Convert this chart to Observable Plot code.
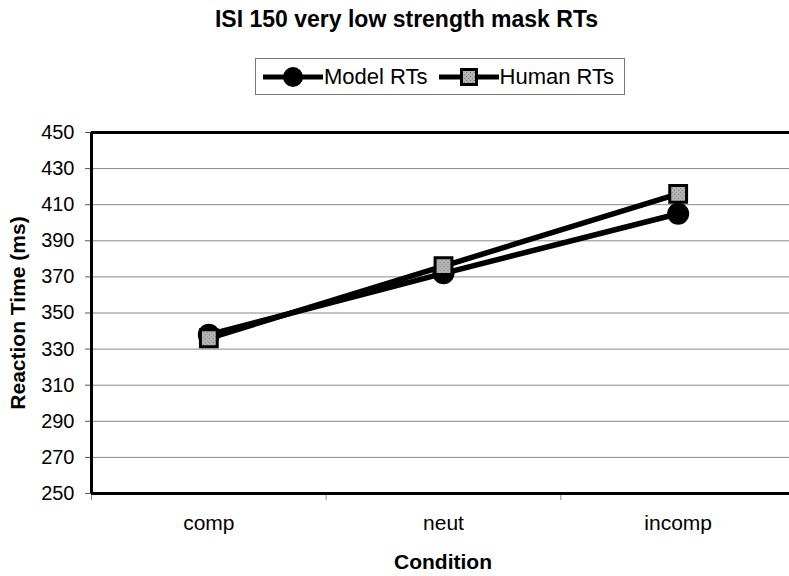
<!DOCTYPE html>
<html>
<head>
<meta charset="utf-8">
<script src="https://cdn.jsdelivr.net/npm/d3@7"></script>
<script src="https://cdn.jsdelivr.net/npm/@observablehq/plot@0.6"></script>
<style>
  html, body { margin: 0; padding: 0; background: #fff; overflow: hidden; }
  #wrap { position: relative; width: 789px; height: 576px; font-family: "Liberation Sans", Arial, sans-serif; }
  #wrap svg.plot { position: absolute; left: 0; top: 0; }
  .title { position: absolute; left: 0; width: 813px; top: 6px; text-align: center; font-weight: bold; font-size: 23px; }
  .ytitle { position: absolute; left: 18px; top: 313px; transform: translate(-50%, -50%) rotate(-90deg); white-space: nowrap; font-weight: bold; font-size: 21px; }
  .xtitle { position: absolute; left: 443px; top: 562px; transform: translate(-50%, -50%); white-space: nowrap; font-weight: bold; font-size: 21px; }
  .legend { position: absolute; left: 255px; top: 58px; width: 370px; height: 37px; border: 1px solid #777; display: flex; align-items: center; font-size: 22px; box-sizing: border-box; }
  .legend .item { display: flex; align-items: center; }
  .legend svg { display: block; }
</style>
</head>
<body>
<div id="wrap">
  <div class="title">ISI 150 very low strength mask RTs</div>
  <div class="legend" id="legend"></div>
  <div class="ytitle">Reaction Time (ms)</div>
  <div class="xtitle">Condition</div>
</div>
<script>
const categories = ["comp", "neut", "incomp"];
const modelRTs = [338, 372, 405];
const humanRTs = [336, 376, 416];
const yTicks = [250, 270, 290, 310, 330, 350, 370, 390, 410, 430, 450];
const seriesNames = ["Model RTs", "Human RTs"];

const data = [];
categories.forEach((c, i) => {
  data.push({series: seriesNames[0], idx: i, rt: modelRTs[i]});
  data.push({series: seriesNames[1], idx: i, rt: humanRTs[i]});
});
const model = data.filter(d => d.series === seriesNames[0]);
const human = data.filter(d => d.series === seriesNames[1]);
const boundaries = d3.range(categories.length + 1).map(i => i - 0.5);

const svgNS = "http://www.w3.org/2000/svg";

const chart = Plot.plot({
  width: 789,
  height: 576,
  marginTop: 132,
  marginBottom: 83,
  marginLeft: 91,
  marginRight: 0,
  style: {fontFamily: "Liberation Sans, Arial, sans-serif", fontSize: "20px", color: "#000", background: "transparent"},
  x: {type: "linear", domain: [-0.5, categories.length - 0.5], range: [91, 795]},
  y: {domain: [250, 450]},
  marks: [
    Plot.ruleY(yTicks, {stroke: "#888", strokeWidth: 1}),
    Plot.axisY({ticks: yTicks, tickSize: 6, tickPadding: 11, stroke: "#555", fontSize: 20, label: null}),
    Plot.axisX({ticks: boundaries, tickSize: 7, tickFormat: () => "", stroke: "#888", label: null}),
    Plot.axisX({ticks: d3.range(categories.length), tickSize: 0, tickPadding: 22, tickFormat: i => categories[i], fontSize: 21, label: null}),
    Plot.ruleY([450], {stroke: "#000", strokeWidth: 3}),
    Plot.ruleY([250], {stroke: "#000", strokeWidth: 3}),
    Plot.ruleX([-0.5], {stroke: "#000", strokeWidth: 3}),
    Plot.line(model, {x: "idx", y: "rt", stroke: "#000", strokeWidth: 5.5}),
    Plot.dot(model, {x: "idx", y: "rt", r: 11, fill: "#000", stroke: "none"}),
    Plot.line(human, {x: "idx", y: "rt", stroke: "#000", strokeWidth: 5.5}),
    Plot.dot(human, {x: "idx", y: "rt", symbol: "square", r: 9.5, fill: "url(#stipple)", stroke: "#000", strokeWidth: 3})
  ]
});
chart.classList.add("plot");

// stipple pattern for the square markers
const defs = document.createElementNS(svgNS, "defs");
defs.innerHTML = `<pattern id="stipple" patternUnits="userSpaceOnUse" width="4" height="4">
  <rect width="4" height="4" fill="#b4b4b4"/>
  <rect x="0" y="0" width="1" height="1" fill="#777"/>
  <rect x="2" y="2" width="1" height="1" fill="#888"/>
</pattern>`;
chart.insertBefore(defs, chart.firstChild);

document.getElementById("wrap").prepend(chart);

// legend
const legend = document.getElementById("legend");
seriesNames.forEach((name, k) => {
  const item = document.createElement("div");
  item.className = "item";
  item.style.marginLeft = k === 0 ? "6px" : "10px";
  const s = document.createElementNS(svgNS, "svg");
  s.setAttribute("width", "62"); s.setAttribute("height", "26");
  let marker = k === 0
    ? `<circle cx="31" cy="13" r="10" fill="#000"/>`
    : `<defs><pattern id="stipple2" patternUnits="userSpaceOnUse" width="4" height="4"><rect width="4" height="4" fill="#b4b4b4"/><rect width="1" height="1" fill="#777"/><rect x="2" y="2" width="1" height="1" fill="#888"/></pattern></defs><rect x="23.5" y="5.5" width="15" height="15" fill="url(#stipple2)" stroke="#000" stroke-width="3"/>`;
  s.innerHTML = `<line x1="1" y1="13" x2="61" y2="13" stroke="#000" stroke-width="5"/>` + marker;
  const t = document.createElement("span");
  t.textContent = name;
  item.appendChild(s); item.appendChild(t);
  legend.appendChild(item);
});
</script>
</body>
</html>
